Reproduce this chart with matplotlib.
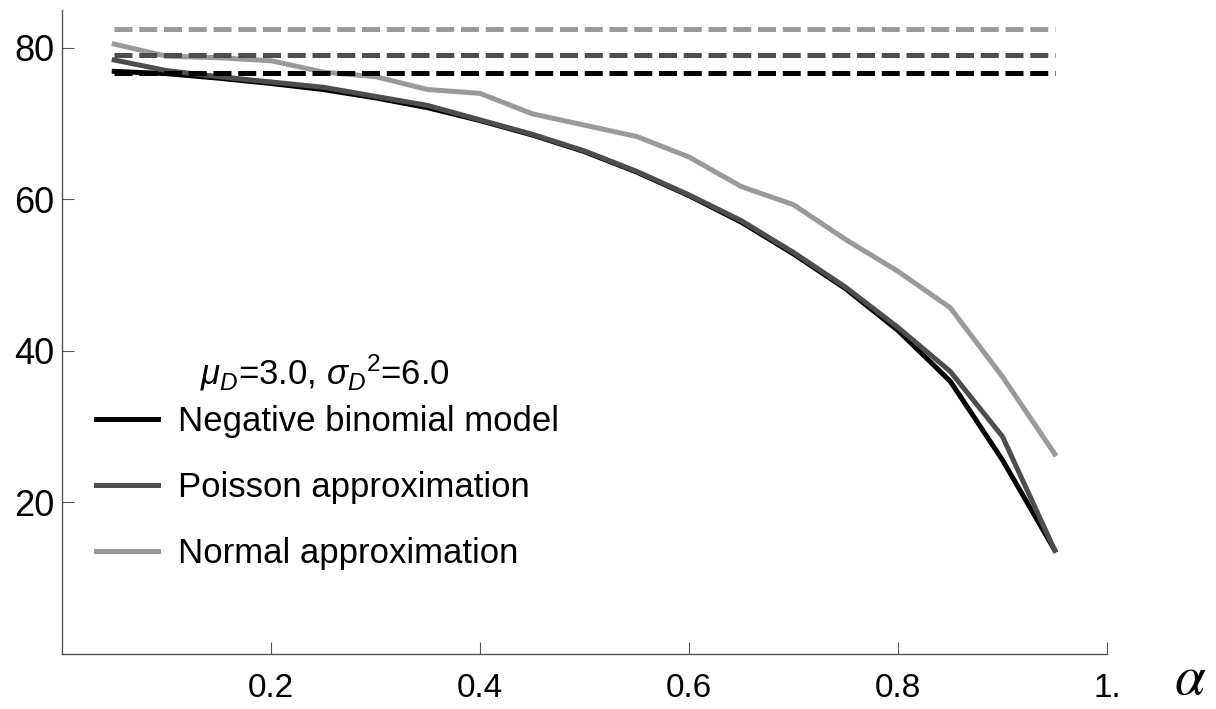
import matplotlib
matplotlib.use("Agg")
import matplotlib.pyplot as plt

plt.rcParams['font.family'] = ['Liberation Sans', 'DejaVu Sans']
plt.rcParams['mathtext.fontset'] = 'custom'
plt.rcParams['mathtext.rm'] = 'Liberation Sans'
plt.rcParams['mathtext.it'] = 'Liberation Sans:italic'

# ---- data ----
alpha = [0.05, 0.10, 0.15, 0.20, 0.25, 0.30, 0.35, 0.40, 0.45, 0.50,
         0.55, 0.60, 0.65, 0.70, 0.75, 0.80, 0.85, 0.90, 0.95]
negbin = [76.9, 76.6, 76.0, 75.3, 74.5, 73.4, 72.1, 70.4, 68.5, 66.3,
          63.6, 60.5, 57.0, 52.8, 48.2, 42.7, 36.0, 25.6, 13.7]
poisson = [78.4, 77.0, 76.2, 75.5, 74.8, 73.6, 72.4, 70.5, 68.6, 66.4,
           63.7, 60.6, 57.2, 53.0, 48.4, 43.1, 37.3, 28.7, 13.7]
normal = [80.5, 78.9, 78.7, 78.3, 76.8, 76.2, 74.5, 74.0, 71.3, 69.8,
          68.3, 65.6, 61.7, 59.3, 54.7, 50.5, 45.7, 36.6, 26.4]
# constant reference levels (dashed)
negbin_level = 76.7
poisson_level = 79.0
normal_level = 82.5

labels = ["Negative binomial model", "Poisson approximation", "Normal approximation"]
legend_title = r'$\mu_D$=3.0, $\sigma_D{}^2$=6.0'
colors = ["#000000", "#4d4d4d", "#9a9a9a"]
xticks = [0.2, 0.4, 0.6, 0.8, 1.0]
xticklabels = ["0.2", "0.4", "0.6", "0.8", "1."]
yticks = [20, 40, 60, 80]
yticklabels = ["20", "40", "60", "80"]

fig = plt.figure(figsize=(12.16, 7.09), dpi=100)
ax = fig.add_axes([62/1216, 1-654/709, (1107-62)/1216, (654-10)/709])

lw = 3.6
dash = (0, (3.6, 1.35))
series = [negbin, poisson, normal]
levels = [negbin_level, poisson_level, normal_level]
handles = []
for ys, c, lab in zip(series, colors, labels):
    h, = ax.plot(alpha, ys, color=c, lw=lw, solid_joinstyle='miter', label=lab, zorder=2)
    handles.append(h)
for lev, c in zip(levels, colors):
    ax.hlines(lev, alpha[0], alpha[-1], colors=c, lw=lw, linestyles=[dash], zorder=3,
              capstyle='butt')

ax.set_xlim(0, 1)
ax.set_ylim(0, 85)
for s in ['top', 'right']:
    ax.spines[s].set_visible(False)
for s in ['left', 'bottom']:
    ax.spines[s].set_color('#555555')
    ax.spines[s].set_linewidth(1.0)

ax.set_xticks(xticks)
ax.set_xticklabels(xticklabels)
ax.set_yticks(yticks)
ax.set_yticklabels(yticklabels)
ax.tick_params(axis='x', direction='in', length=8.6, width=0.8, color='#555555',
               labelsize=24, pad=14)
ax.tick_params(axis='y', direction='in', length=8.6, width=0.8, color='#555555',
               labelsize=26, pad=5.5)

ax.text(1.0794, -0.0808, r'$\alpha$', transform=ax.transAxes, fontsize=40,
        math_fontfamily='stix', ha='center', va='bottom')

ax.text(0.252, 0.436, legend_title, transform=ax.transAxes, fontsize=25,
        ha='center', va='center')

leg = ax.legend(handles=handles, labels=labels, loc='center left',
                bbox_to_anchor=(0.0325, 0.259), frameon=False, fontsize=25,
                handlelength=1.8, handletextpad=0.55, labelspacing=0.95,
                borderpad=0, borderaxespad=0)

fig.savefig("out.png", dpi=100)
